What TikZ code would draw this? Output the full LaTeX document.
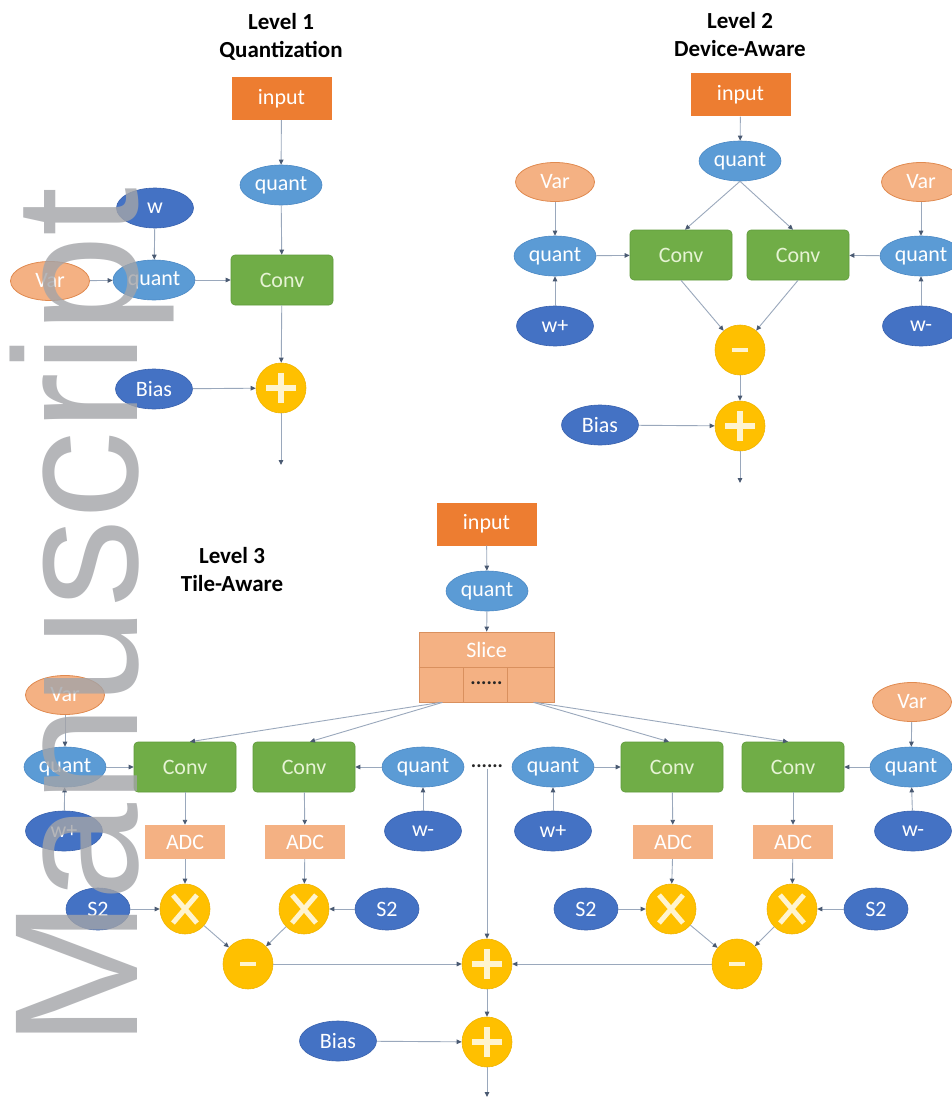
\documentclass[tikz,border=0pt]{standalone}
\usepackage{fontspec}
\setmainfont{Carlito}
\newfontfamily\wmfont{Liberation Sans}
\usetikzlibrary{shapes.geometric,arrows.meta,calc}
\definecolor{cInput}{HTML}{ED7D31}
\definecolor{cQuant}{HTML}{5B9BD5}
\definecolor{cQuantB}{HTML}{4A88C4}
\definecolor{cDark}{HTML}{4472C4}
\definecolor{cDarkB}{HTML}{3A62AE}
\definecolor{cVar}{HTML}{F4B183}
\definecolor{cVarB}{HTML}{E08A50}
\definecolor{cConv}{HTML}{70AD47}
\definecolor{cConvB}{HTML}{5E9A3A}
\definecolor{cConvT}{HTML}{E6F3D4}
\definecolor{cOp}{HTML}{FFC000}
\definecolor{cOpB}{HTML}{F0B400}
\definecolor{cSym}{HTML}{FFF4CF}
\definecolor{cLine}{HTML}{9AA8BC}
\definecolor{cTip}{HTML}{4A5A72}
\definecolor{cSlice}{HTML}{D9905E}
\definecolor{cWm}{HTML}{A3A4A8}
\tikzset{
  nfont/.style={font=\fontsize{22}{24}\selectfont},
  ttl/.style={font=\bfseries\fontsize{23}{28}\selectfont, anchor=base, inner sep=0pt},
  inbox/.style={nfont, rectangle, fill=cInput, text=white, minimum width=100pt, minimum height=43pt, inner sep=0pt},
  qn/.style={nfont, ellipse, fill=cQuant, draw=cQuantB, line width=0.6pt, text=white, minimum width=82pt, minimum height=40pt, inner sep=0pt},
  dk/.style={nfont, ellipse, fill=cDark, draw=cDarkB, line width=0.6pt, text=white, minimum width=77pt, minimum height=40pt, inner sep=0pt},
  sk/.style={dk, minimum width=64pt, minimum height=42pt},
  vr/.style={nfont, ellipse, fill=cVar, draw=cVarB, line width=0.8pt, text=white, minimum width=79pt, minimum height=39pt, inner sep=0pt},
  cv/.style={nfont, rectangle, rounded corners=4pt, fill=cConv, draw=cConvB, line width=0.6pt, text=cConvT, minimum width=102pt, minimum height=50pt, inner sep=0pt},
  adc/.style={nfont, rectangle, fill=cVar, text=white, minimum width=80pt, minimum height=34pt, inner sep=0pt},
  opnode/.style={circle, fill=cOp, draw=cOpB, line width=0.6pt, minimum size=50pt, inner sep=0pt},
  sym/.style={draw=cSym, line width=5.5pt},
  plusop/.style={opnode, path picture={\draw[sym] (path picture bounding box.center) +(-15pt,0) -- +(15pt,0) +(0,-15pt) -- +(0,15pt);}},
  minusop/.style={opnode, path picture={\draw[sym, line width=4.5pt] (path picture bounding box.center) +(-8pt,0) -- +(8pt,0);}},
  timesop/.style={opnode, path picture={\draw[sym, line width=5pt] (path picture bounding box.center) +(-12pt,-14pt) -- +(12pt,14pt) +(-12pt,14pt) -- +(12pt,-14pt);}},
  slicebox/.style={rectangle, fill=cVar, draw=cSlice, line width=0.8pt, minimum width=135pt, minimum height=70pt, inner sep=0pt},
  slline/.style={draw=cSlice, line width=0.8pt},
  dotsn/.style={font=\bfseries\fontsize{20}{20}\selectfont, text=black!85, inner sep=1pt},
  conn/.style={draw=cLine, line width=0.9pt, -{Triangle[length=5pt,width=4.5pt,color=cTip]}},
  wm/.style={font=\wmfont\fontsize{176}{176}\selectfont, text=cWm, text opacity=0.8, inner sep=0pt}
}
\begin{document}
\begin{tikzpicture}[x=1pt,y=-1pt]
\useasboundingbox (0,0) rectangle (952,1102);
\clip (0,0) rectangle (952,1102);
\fill[white] (0,0) rectangle (952,1102);

% ---------------- Level 1 ----------------
\node[ttl] (t1a) at (281,30) {Level 1};
\node[ttl] (t1b) at (281,58) {Quantization};
\node[inbox] (in1) at (281.5,98.5) {input};
\node[qn] (q1t) at (281,185) {quant};
\node[dk] (w1) at (155,208) {w};
\node[vr] (v1) at (50,281) {Var};
\node[qn] (q1l) at (154,280) {quant};
\node[cv] (c1) at (282,280) {Conv};
\node[plusop] (p1) at (281,388) {};
\node[dk] (b1) at (154,389) {Bias};
\coordinate (o1) at (281,465);
\draw[conn] (in1) -- (q1t);
\draw[conn] (q1t) -- (c1);
\draw[conn] (w1) -- (q1l);
\draw[conn] (v1) -- (q1l);
\draw[conn] (q1l) -- (c1);
\draw[conn] (c1) -- (p1);
\draw[conn] (b1) -- (p1);
\draw[conn] (p1) -- (o1);

% ---------------- Level 2 ----------------
\node[ttl] (t2a) at (740,29) {Level 2};
\node[ttl] (t2b) at (740,57) {Device-Aware};
\node[inbox] (in2) at (740.5,95) {input};
\node[qn] (q2t) at (740,161) {quant};
\node[vr] (v2l) at (555,182) {Var};
\node[qn] (q2l) at (555,256) {quant};
\node[dk] (w2l) at (555,326) {w+};
\node[cv] (c2a) at (681,255) {Conv};
\node[cv] (c2b) at (798,255) {Conv};
\node[vr] (v2r) at (921,182) {Var};
\node[qn] (q2r) at (921,256) {quant};
\node[dk] (w2r) at (921,326) {w-};
\node[minusop] (m2) at (740,350) {};
\node[plusop] (p2) at (740,426) {};
\node[dk] (b2) at (600,425) {Bias};
\coordinate (o2) at (740,483);
\draw[conn] (in2) -- (q2t);
\draw[conn] (q2t.south) -- ([xshift=4pt]c2a.north);
\draw[conn] (q2t.south) -- ([xshift=-5pt]c2b.north);
\draw[conn] (v2l) -- (q2l);
\draw[conn] (w2l) -- (q2l);
\draw[conn] (q2l) -- (c2a);
\draw[conn] (v2r) -- (q2r);
\draw[conn] (w2r) -- (q2r);
\draw[conn] (q2r) -- (c2b);
\draw[conn] (c2a.south) -- (m2);
\draw[conn] (c2b.south) -- (m2);
\draw[conn] (m2) -- (p2);
\draw[conn] (b2) -- (p2);
\draw[conn] (p2) -- (o2);

% ---------------- Level 3 ----------------
\node[ttl] (t3a) at (232,563) {Level 3};
\node[ttl] (t3b) at (232,591) {Tile-Aware};
\node[inbox] (in3) at (486.5,524) {input};
\node[qn] (q3t) at (487,591) {quant};
\node[slicebox] (sl) at (486.5,667) {};
\draw[slline] (sl.west) -- (sl.east);
\draw[slline] ([xshift=-23pt]sl.center) -- ([xshift=-23pt]sl.south);
\draw[slline] ([xshift=21pt]sl.center) -- ([xshift=21pt]sl.south);
\node[nfont, text=white] (sllab) at (486.5,650) {Slice};
\node[dotsn] (sldots) at (486.5,683) {......};
\draw[conn] (in3) -- (q3t);
\draw[conn] (q3t) -- (sl);

\node[vr] (v3a) at (65,695) {Var};
\node[qn] (q3a) at (65,767) {quant};
\node[dk] (w3a) at (64,831) {w+};
\node[cv] (c3a) at (185,767) {Conv};
\node[cv] (c3b) at (304,767) {Conv};
\node[qn] (q3b) at (423,767) {quant};
\node[dk] (w3b) at (423,831) {w-};
\node[dotsn] (mdots) at (487,766) {......};
\node[qn] (q3c) at (553,767) {quant};
\node[dk] (w3c) at (553,831) {w+};
\node[cv] (c3c) at (672,767) {Conv};
\node[cv] (c3d) at (793,767) {Conv};
\node[qn] (q3d) at (911,767) {quant};
\node[vr] (v3d) at (912,702) {Var};
\node[dk] (w3d) at (913,831) {w-};

\node[adc] (a3a) at (185,842) {ADC};
\node[adc] (a3b) at (305,842) {ADC};
\node[adc] (a3c) at (673,842) {ADC};
\node[adc] (a3d) at (793,842) {ADC};

\node[timesop] (x3a) at (185,909) {};
\node[timesop] (x3b) at (304,909) {};
\node[timesop] (x3c) at (671,909) {};
\node[timesop] (x3d) at (792,909) {};
\node[sk] (s3a) at (98,909) {S2};
\node[sk] (s3b) at (387,909) {S2};
\node[sk] (s3c) at (586,909) {S2};
\node[sk] (s3d) at (876,909) {S2};

\node[minusop] (m3a) at (248,964) {};
\node[minusop] (m3b) at (737,964) {};
\node[plusop] (p3) at (487,964) {};
\node[plusop] (p3b) at (487,1042) {};
\node[dk] (b3) at (338,1041) {Bias};
\coordinate (o3) at (487,1097);

\draw[conn] ([xshift=-46pt]sl.south) -- ([xshift=5pt]c3a.north);
\draw[conn] ([xshift=-44pt]sl.south) -- ([xshift=6pt]c3b.north);
\draw[conn] ([xshift=47pt]sl.south) -- ([xshift=-3pt]c3c.north);
\draw[conn] ([xshift=49pt]sl.south) -- ([xshift=-5pt]c3d.north);

\draw[conn] (v3a) -- (q3a);
\draw[conn] (w3a) -- (q3a);
\draw[conn] (q3a) -- (c3a);
\draw[conn] (q3b) -- (c3b);
\draw[conn] (w3b) -- (q3b);
\draw[conn] (w3c) -- (q3c);
\draw[conn] (q3c) -- (c3c);
\draw[conn] (q3d) -- (c3d);
\draw[conn] (v3d) -- (q3d);
\draw[conn] (w3d) -- (q3d);

\draw[conn] (c3a) -- (a3a);
\draw[conn] (c3b) -- (a3b);
\draw[conn] (c3c) -- (a3c);
\draw[conn] (c3d) -- (a3d);
\draw[conn] (a3a) -- (x3a);
\draw[conn] (a3b) -- (x3b);
\draw[conn] (a3c) -- (x3c);
\draw[conn] (a3d) -- (x3d);
\draw[conn] (s3a) -- (x3a);
\draw[conn] (s3b) -- (x3b);
\draw[conn] (s3c) -- (x3c);
\draw[conn] (s3d) -- (x3d);
\draw[conn] (x3a) -- (m3a);
\draw[conn] (x3b) -- (m3a);
\draw[conn] (x3c) -- (m3b);
\draw[conn] (x3d) -- (m3b);
\draw[conn] (m3a) -- (p3);
\draw[conn] (m3b) -- (p3);
\draw[conn] (mdots.south) -- (p3);
\draw[conn] (p3) -- (p3b);
\draw[conn] (b3) -- (p3b);
\draw[conn] (p3b) -- (o3);

% ---------------- watermark ----------------
\node[wm, rotate=90, anchor=base west] (wmk) at (137,1048) {Manuscript};
\end{tikzpicture}
\end{document}
